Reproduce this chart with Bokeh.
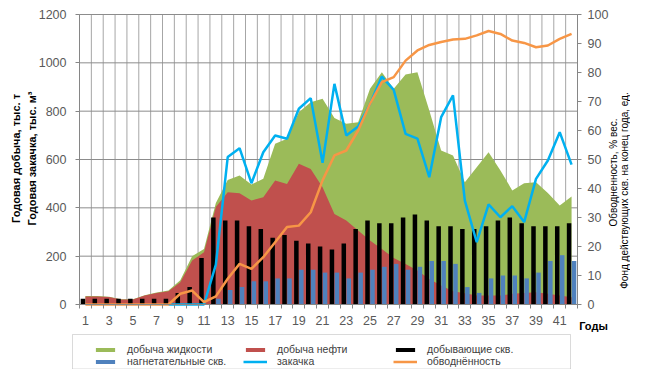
import math
import numpy as np
from bokeh.plotting import figure
from bokeh.models import (Range1d, LinearAxis, FixedTicker, Legend, LegendItem,
                          ColumnDataSource, Label, BoxAnnotation)
from bokeh.transform import dodge
from bokeh.embed import file_html
from bokeh.resources import INLINE

# ---------------- data ----------------
years = list(range(1, 43))
x_tick_labels = [1, 3, 5, 7, 9, 11, 13, 15, 17, 19, 21, 23, 25, 27, 29, 31, 33, 35, 37, 39, 41]

liquid = [35, 35, 32, 22, 22, 38, 50, 58, 100, 200,
          230, 420, 515, 534, 497, 520, 665, 686, 796, 837,
          851, 772, 748, 754, 893, 961, 893, 952, 961, 803,
          637, 617, 506, 568, 630, 554, 472, 502, 506, 461, 410, 447]
oil = [33, 33, 31, 21, 21, 37, 48, 55, 92, 182,
       216, 403, 465, 460, 430, 444, 513, 499, 582, 561,
       485, 375, 348, 306, 265, 230, 192, 168, 141, 106,
       79, 55, 47, 37, 37, 37, 44, 48, 51, 44, 37, 30]
producers = [2, 2, 2, 2, 2, 2, 2, 2, 4, 6,
             16, 30, 29, 29, 27, 26, 23, 24, 22, 21,
             20, 19, 21, 26, 29, 28, 28, 30, 31, 29,
             27, 27, 26, 26, 27, 29, 30, 28, 27, 27, 27, 28]
injectors = [0, 0, 0, 0, 0, 0, 0, 0, 0, 0,
             0, 2, 5, 6, 8, 8, 9, 9, 12, 12,
             11, 11, 9, 11, 12, 13, 14, 12, 13, 15,
             15, 14, 6, 4, 9, 10, 10, 9, 11, 15, 17, 15]
nan = float("nan")
injection = [nan, nan, nan, nan, nan, nan, nan, 0, 0, 0,
             0, 165, 610, 647, 502, 630, 699, 686, 810, 854,
             586, 913, 699, 737, 830, 943, 888, 706, 686, 527,
             775, 865, 430, 258, 414, 361, 407, 341, 520, 596, 713, 579]
water_cut = [0, 0, 0, 0, 0, 0, 0, 0, 3.7, 4.8,
             0.8, 2.8, 8.9, 14, 12.3, 16.3, 21.5, 26.7, 27.2, 31.8,
             42.8, 51.4, 53.1, 60, 69.2, 76.7, 78.4, 84.1, 87.6, 89.5,
             90.5, 91.4, 91.6, 92.8, 94.3, 93.3, 91, 90.2, 88.7, 89.3, 91.6, 93.3]

left_ticks = [0, 200, 400, 600, 800, 1000, 1200]
right_ticks = [0, 10, 20, 30, 40, 50, 60, 70, 80, 90, 100]
x_title = "Годы"
left_title = ["Годовая добыча, тыс. т", "Годовая закачка, тыс. м³"]
right_title = ["Обводненность, % вес.", "Фонд действующих скв. на конец года, ед."]
legend_labels = ["добыча жидкости", "добыча нефти", "добывающие скв.",
                 "нагнетательные скв.", "закачка", "обводнённость"]

# ---------------- layout constants (pixels) ----------------
# The frame covers the whole canvas; the data area is placed inside it.
W, H = 630, 369
AREA_LEFT, AREA_RIGHT, AREA_TOP, AREA_BOTTOM = 79, 577, 14, 304
x_lo, x_hi = years[0] - 0.5, years[-1] + 0.5
px_x = (AREA_RIGHT - AREA_LEFT) / (x_hi - x_lo)
x_start = x_lo - AREA_LEFT / px_x
x_end = x_hi + (W - AREA_RIGHT) / px_x
px_l = (AREA_BOTTOM - AREA_TOP) / (left_ticks[-1] - left_ticks[0])
yl_start = left_ticks[0] - (H - AREA_BOTTOM) / px_l
yl_end = left_ticks[-1] + AREA_TOP / px_l
px_r = (AREA_BOTTOM - AREA_TOP) / (right_ticks[-1] - right_ticks[0])
yr_start = right_ticks[0] - (H - AREA_BOTTOM) / px_r
yr_end = right_ticks[-1] + AREA_TOP / px_r

src = ColumnDataSource(dict(
    year=np.array(years, dtype=float),
    liquid=np.array(liquid, dtype=float),
    oil=np.array(oil, dtype=float),
    producers=np.array(producers, dtype=float),
    injectors=np.array(injectors, dtype=float),
    injection=np.array(injection, dtype=float),
    water_cut=np.array(water_cut, dtype=float),
))

FONT = "Liberation Sans"
TICK_COLOR = "#595959"
AXIS_COLOR = "#868686"
VGRID_COLOR = "#a6a6a6"
HGRID_COLOR = "#8c8c8c"

p = figure(width=W, height=H, output_backend="svg", toolbar_location=None,
           x_range=Range1d(x_start, x_end), y_range=Range1d(yl_start, yl_end),
           min_border_left=0, min_border_right=0, min_border_top=0,
           min_border_bottom=0)
p.extra_y_ranges = {"wells": Range1d(yr_start, yr_end)}
p.outline_line_color = None
p.background_fill_color = "white"
p.border_fill_color = "white"
p.xgrid.visible = False
p.ygrid.visible = False

# grid lines, restricted to the data area
bounds = [y - 0.5 for y in years] + [years[-1] + 0.5]
vgrid_src = ColumnDataSource(dict(x=bounds))
p.segment(x0="x", x1="x", y0=left_ticks[0], y1=left_ticks[-1], source=vgrid_src,
          line_color=VGRID_COLOR, line_width=1, level="underlay")
hgrid_src = ColumnDataSource(dict(y=left_ticks))
p.segment(x0=x_lo, x1=x_hi, y0="y", y1="y", source=hgrid_src,
          line_color=HGRID_COLOR, line_width=1, level="underlay")

# axes (fixed inside the frame)
xax = p.xaxis[0]
xax.fixed_location = 0
xax.bounds = (x_lo, x_hi)
xax.ticker = FixedTicker(ticks=x_tick_labels, minor_ticks=bounds)
xax.major_tick_out = 0
xax.major_tick_in = 0
xax.minor_tick_out = 4
xax.minor_tick_in = 0
xax.major_label_standoff = 7

yax = p.yaxis[0]
yax.fixed_location = x_lo
yax.bounds = (left_ticks[0], left_ticks[-1])
yax.ticker = FixedTicker(ticks=left_ticks)
yax.major_tick_out = 4
yax.major_tick_in = 0
yax.minor_tick_out = 0
yax.minor_tick_in = 0
yax.major_label_standoff = 9

rax = LinearAxis(y_range_name="wells", ticker=FixedTicker(ticks=right_ticks))
rax.fixed_location = x_hi
rax.bounds = (right_ticks[0], right_ticks[-1])
rax.major_tick_out = 4
rax.major_tick_in = 0
rax.minor_tick_out = 0
rax.minor_tick_in = 0
rax.major_label_standoff = 6
p.add_layout(rax, "right")

for ax in [xax, yax, rax]:
    ax.axis_line_color = AXIS_COLOR
    ax.major_tick_line_color = AXIS_COLOR
    ax.minor_tick_line_color = AXIS_COLOR
    ax.major_label_text_color = TICK_COLOR
    ax.major_label_text_font = FONT
    ax.major_label_text_font_size = "12.5px"

# glyphs
g_liq = p.varea(x="year", y1=0, y2="liquid", source=src, fill_color="#9BBB59")
g_oil = p.varea(x="year", y1=0, y2="oil", source=src, fill_color="#C0504D")
g_prod = p.vbar(x=dodge("year", -0.21), top="producers", width=0.38, source=src,
                y_range_name="wells", fill_color="black", line_color=None)
g_inj = p.vbar(x=dodge("year", 0.21), top="injectors", width=0.38, source=src,
               y_range_name="wells", fill_color="#4F81BD", line_color=None)
g_inl = p.line(x="year", y="injection", source=src, line_color="#00B0F0", line_width=2.5)
g_wc = p.line(x="year", y="water_cut", source=src, y_range_name="wells",
              line_color="#F79646", line_width=2.5)

# legend
renderers = [g_liq, g_oil, g_prod, g_inj, g_inl, g_wc]
legend = Legend(items=[LegendItem(label=t, renderers=[r]) for t, r in zip(legend_labels, renderers)],
                location=(93, 1.7), orientation="horizontal", ncols=3)
legend.padding = 0
legend.spacing = 0
legend.margin = 0
legend.glyph_width = 24
legend.glyph_height = 5
legend.label_width = 116
legend.label_height = 12
legend.label_standoff = 10
legend.label_text_font = FONT
legend.label_text_font_size = "10.5px"
legend.label_text_color = "#404040"
legend.border_line_alpha = 0
legend.background_fill_alpha = 0
p.add_layout(legend)

p.add_layout(BoxAnnotation(left=72, right=570, top=35, bottom=0.5,
                           left_units="screen", right_units="screen",
                           top_units="screen", bottom_units="screen",
                           fill_alpha=0, line_color=AXIS_COLOR, line_width=1))

# titles
def add_label(text, x, y, angle=0.0, bold=False, size="11px"):
    p.add_layout(Label(x=x, y=y, x_units="screen", y_units="screen", text=text,
                       angle=angle, text_align="center", text_baseline="middle",
                       text_font=FONT, text_font_size=size,
                       text_font_style="bold" if bold else "normal",
                       text_color="black"))

add_label(left_title[0], 15, H - 158, math.pi / 2, True)
add_label(left_title[1], 31, H - 158, math.pi / 2, True)
add_label(right_title[0], 613, H - 172, math.pi / 2, False, "10px")
add_label(right_title[1], 624, H - 190, math.pi / 2, False, "10px")
add_label(x_title, 593, H - 325, 0.0, True)

open("out.html", "w").write(file_html(p, INLINE))
